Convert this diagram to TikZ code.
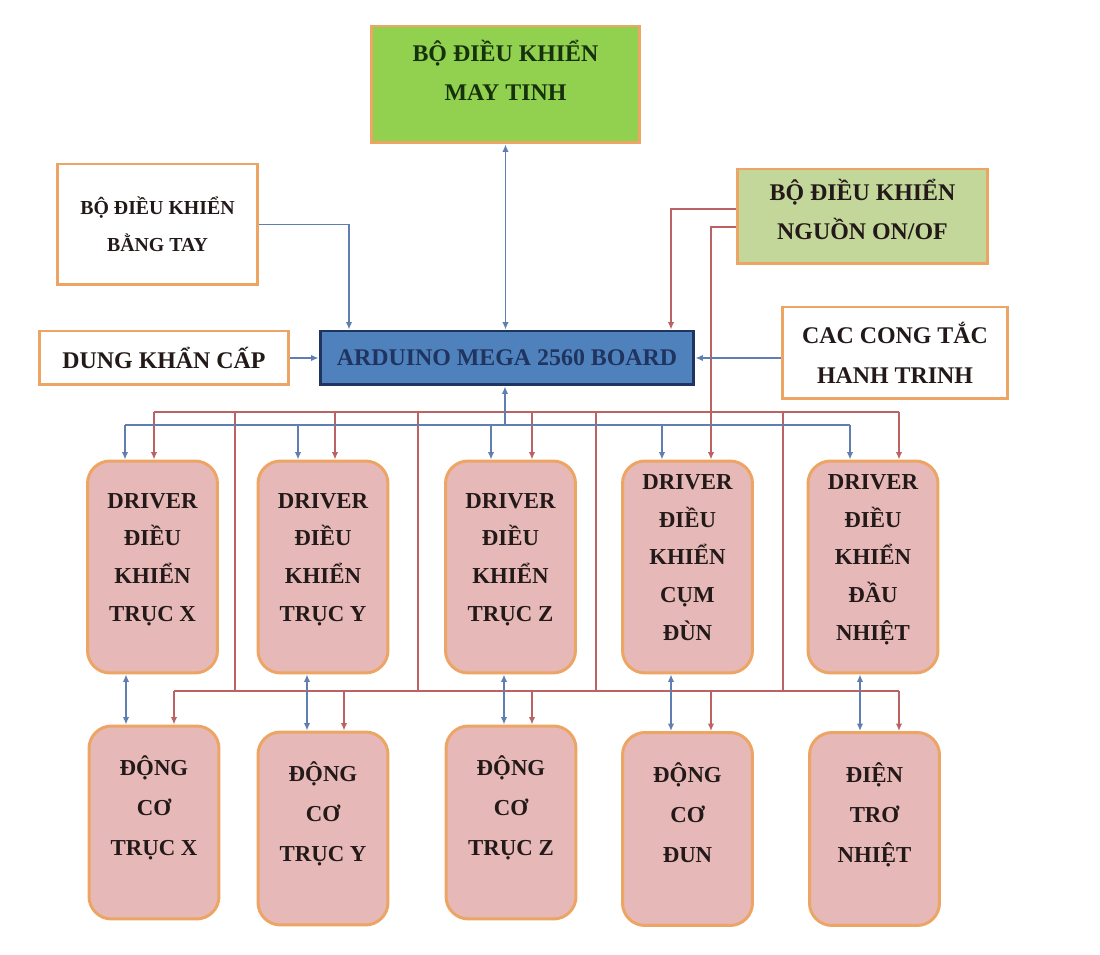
\documentclass[tikz,border=0pt]{standalone}
\usepackage{fontspec}
\setmainfont{Liberation Serif}
\usepackage{xcolor}
\usepackage{tikz}
\usetikzlibrary{arrows.meta}
\definecolor{cam}{RGB}{236,165,100}
\definecolor{xanhla}{RGB}{146,208,80}
\definecolor{xanhnhat}{RGB}{196,215,155}
\definecolor{xanhduong}{RGB}{79,129,189}
\definecolor{xanhdam}{RGB}{31,52,95}
\definecolor{chula}{RGB}{22,50,12}
\definecolor{hong}{RGB}{230,185,184}
\definecolor{dayxanh}{RGB}{96,126,176}
\definecolor{daydo}{RGB}{188,98,98}
\definecolor{chuden}{RGB}{35,25,25}

\begin{document}
\begin{tikzpicture}[x=0.02cm,y=-0.02cm,
		hop/.style={draw=cam,line width=1.7pt,inner sep=0pt,align=center,text=chuden,
			font=\bfseries\fontsize{13.6}{22.5}\selectfont},
		khoi/.style={hop,fill=hong,rounded corners=0.45cm,minimum width=2.6cm,
			font=\bfseries\fontsize{13}{22.7}\selectfont},
		dayx/.style={draw=dayxanh,line width=1pt},
		dayd/.style={draw=daydo,line width=1pt},
		mui/.style={-{Latex[length=1.5mm,width=1.3mm]}},
		haimui/.style={{Latex[length=1.5mm,width=1.3mm]}-{Latex[length=1.5mm,width=1.3mm]}}]
	\useasboundingbox[fill=white] (0,0) rectangle (1100,955);

	% khoi dieu khien phia tren
	\node[hop,fill=xanhla,text=chula,minimum width=5.38cm,minimum height=2.34cm,text depth=16pt] (maytinh) at (505.5,84.5) {BỘ ĐIỀU KHIỂN\\MAY TINH};
	\node[hop,fill=white,minimum width=4.02cm,minimum height=2.42cm,
		font=\bfseries\fontsize{11.3}{21}\selectfont] (bangtay) at (157.5,224.5) {BỘ ĐIỀU KHIỂN\\BẰNG TAY};
	\node[hop,fill=xanhnhat,minimum width=5.02cm,minimum height=1.9cm,text depth=8pt] (nguon) at (862.5,216.5) {BỘ ĐIỀU KHIỂN\\NGUỒN ON/OF};
	\node[hop,fill=white,minimum width=5cm,minimum height=1.08cm] (dungkc) at (164,358) {DUNG KHẨN CẤP};
	\node[hop,draw=xanhdam,fill=xanhduong,text=xanhdam,minimum width=7.48cm,minimum height=1.08cm] (board) at (507,358) {ARDUINO MEGA 2560 BOARD};
	\node[hop,fill=white,minimum width=4.52cm,minimum height=1.84cm] (congtac) at (895,353) {CAC CONG TẮC\\HANH TRINH};

	% driver
	\node[khoi,minimum height=4.24cm,font=\bfseries\fontsize{13}{21.5}\selectfont,text depth=11pt] (drvx) at (152.5,567) {DRIVER\\ĐIỀU\\KHIỂN\\TRỤC X};
	\node[khoi,minimum height=4.24cm,font=\bfseries\fontsize{13}{21.5}\selectfont,text depth=11pt] (drvy) at (323,567) {DRIVER\\ĐIỀU\\KHIỂN\\TRỤC Y};
	\node[khoi,minimum height=4.24cm,font=\bfseries\fontsize{13}{21.5}\selectfont,text depth=11pt] (drvz) at (510.5,567) {DRIVER\\ĐIỀU\\KHIỂN\\TRỤC Z};
	\node[khoi,minimum height=4.24cm,font=\bfseries\fontsize{13}{21.5}\selectfont,text depth=11pt] (drvdun) at (687.5,567) {DRIVER\\ĐIỀU\\KHIỂN\\CỤM\\ĐÙN};
	\node[khoi,minimum height=4.24cm,font=\bfseries\fontsize{13}{21.5}\selectfont,text depth=11pt] (drvnhiet) at (873,567) {DRIVER\\ĐIỀU\\KHIỂN\\ĐẦU\\NHIỆT};

	% dong co
	\node[khoi,minimum height=3.86cm,text depth=19pt] (dcx) at (154,822.5) {ĐỘNG\\CƠ\\TRỤC X};
	\node[khoi,minimum height=3.86cm,text depth=19pt] (dcy) at (323,828.5) {ĐỘNG\\CƠ\\TRỤC Y};
	\node[khoi,minimum height=3.86cm,text depth=19pt] (dcz) at (511,822.5) {ĐỘNG\\CƠ\\TRỤC Z};
	\node[khoi,minimum height=3.86cm,text depth=19pt] (dcdun) at (687.5,829) {ĐỘNG\\CƠ\\ĐUN};
	\node[khoi,minimum height=3.86cm,text depth=19pt] (dientro) at (874.5,829) {ĐIỆN\\TRƠ\\NHIỆT};

	% day vao board
	\draw[dayx,haimui] (maytinh.south |- board.north) -- (maytinh.south);
	\draw[dayx,mui] (bangtay.east) -| (349,0 |- board.north);
	\draw[dayd,mui] (nguon.west |- 0,209) -| (671,0 |- board.north);
	\draw[dayd,mui] (nguon.west |- 0,227) -| (711,0 |- drvdun.north);
	\draw[dayx,mui] (dungkc) -- (board);
	\draw[dayx,mui] (congtac.west |- board.east) -- (board.east);

	% cac duong bus
	\coordinate (busdo) at (505,412);
	\coordinate (busxanh) at (505,425);
	\coordinate (busduoi) at (505,691);
	\draw[dayd] (busdo -| 154,0) -- (busdo -| 899,0);
	\draw[dayd] (busduoi -| 174,0) -- (busduoi -| 899,0);
	\foreach \x in {235,418,596,783}
		\draw[dayd] (busdo -| \x,0) -- (busduoi -| \x,0);
	\foreach \x/\n in {154/drvx,335/drvy,532/drvz,899/drvnhiet}
		\draw[dayd,mui] (busdo -| \x,0) -- (\n.north -| \x,0);
	\foreach \x/\n in {174/dcx,344/dcy,532/dcz,711/dcdun,899/dientro}
		\draw[dayd,mui] (busduoi -| \x,0) -- (\n.north -| \x,0);
	\draw[dayx,mui] (busxanh) -- (board.south -| busxanh);
	\draw[dayx] (busxanh -| 125,0) -- (busxanh -| 850,0);
	\foreach \x/\n in {125/drvx,298/drvy,491/drvz,662/drvdun,850/drvnhiet}
		\draw[dayx,mui] (busxanh -| \x,0) -- (\n.north -| \x,0);
	\foreach \x/\n/\m in {126/drvx/dcx,307/drvy/dcy,504/drvz/dcz,671/drvdun/dcdun,860/drvnhiet/dientro}
		\draw[dayx,haimui] (\n.south -| \x,0) -- (\m.north -| \x,0);
\end{tikzpicture}
\end{document}
